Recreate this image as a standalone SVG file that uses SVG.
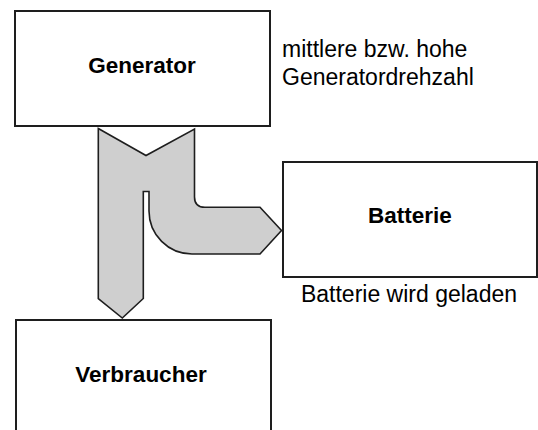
<svg xmlns="http://www.w3.org/2000/svg" width="538" height="430" viewBox="0 0 538 430">
  <style>
    .box { fill: #ffffff; stroke: #1e1e1e; stroke-width: 2; }
    .title { font-family: "Liberation Sans", Arial, sans-serif; font-weight: bold; font-size: 22.5px; fill: #000; text-anchor: middle; }
    .note { font-family: "Liberation Sans", Arial, sans-serif; font-size: 23px; fill: #000; }
    .flow { fill: #cfcfcf; stroke: #1e1e1e; stroke-width: 1.6; stroke-linejoin: miter; }
  </style>
  <rect width="538" height="430" fill="#ffffff"/>
  <g id="connectors">
    <path class="flow" d="M98.3,128.5 L146,155.5 L194.5,129 L194.5,197 Q194.5,207.3 205,207.3 L260,207.3 L281.5,230.5 L260,254 L192,254 A43,43 0 0 1 149,211 L149,191.5 L143.3,191.5 L143.3,298.5 L122.3,318 L98.3,298.5 Z"/>
  </g>
  <g id="generator">
    <rect class="box" x="15" y="11" width="255" height="115"/>
    <text class="title" x="142" y="73">Generator</text>
  </g>
  <g id="note-generator">
    <text class="note" x="282" y="57">mittlere bzw. hohe</text>
    <text class="note" x="282" y="85">Generatordrehzahl</text>
  </g>
  <g id="batterie">
    <rect class="box" x="283" y="162" width="254" height="115"/>
    <text class="title" x="410" y="223">Batterie</text>
    <text class="note" x="409" y="302" text-anchor="middle">Batterie wird geladen</text>
  </g>
  <g id="verbraucher">
    <rect class="box" x="16" y="320" width="255" height="130"/>
    <text class="title" x="141" y="382">Verbraucher</text>
  </g>
</svg>
